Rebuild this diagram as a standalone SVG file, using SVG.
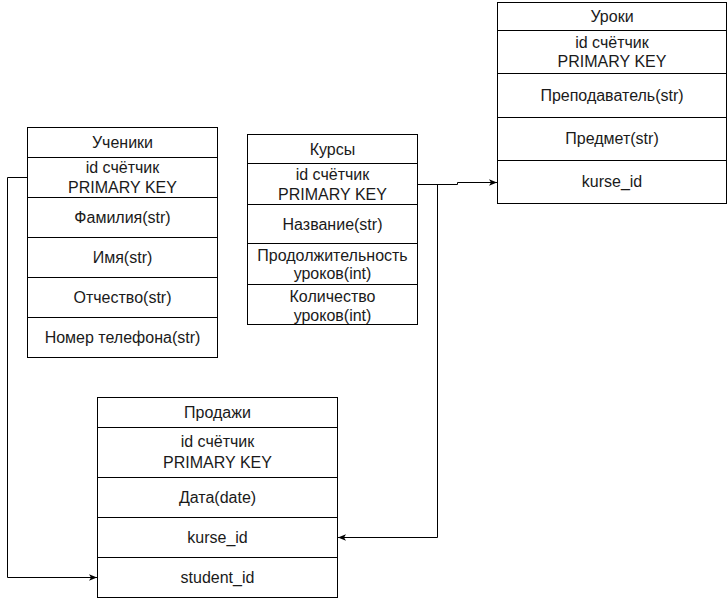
<svg xmlns="http://www.w3.org/2000/svg" width="728" height="598" viewBox="0 0 728 598">
<defs>
<style>
.box{fill:#fff;stroke:#000;stroke-width:1}
.sep{stroke:#000;stroke-width:1}
text{font-family:"Liberation Sans",Arial,sans-serif;font-size:16px;fill:#1a1a1a;text-anchor:middle}
.edge{fill:none;stroke:#000;stroke-width:1}
</style>
<marker id="arr" viewBox="0 0 10 10" refX="10" refY="5" markerWidth="8" markerHeight="8" markerUnits="userSpaceOnUse" orient="auto">
<path d="M0,1 L10,5 L0,9 L2.5,5 Z" fill="#000"/>
</marker>
</defs>
<rect width="728" height="598" fill="#fff"/>

<g id="students">
<rect class="box" x="27.5" y="127.5" width="190" height="230"/>
<path class="sep" d="M27.5 157.5H217.5M27.5 197.5H217.5M27.5 237.5H217.5M27.5 277.5H217.5M27.5 317.5H217.5"/>
<text x="122.5" y="148">Ученики</text>
<text x="122.5" y="173">id счётчик</text>
<text x="122.5" y="193">PRIMARY KEY</text>
<text x="122.5" y="223">Фамилия(str)</text>
<text x="122.5" y="263">Имя(str)</text>
<text x="122.5" y="303">Отчество(str)</text>
<text x="122.5" y="343">Номер телефона(str)</text>
</g>

<g id="courses">
<rect class="box" x="247.5" y="134.5" width="170" height="190"/>
<path class="sep" d="M247.5 163.5H417.5M247.5 204.5H417.5M247.5 243.5H417.5M247.5 284.5H417.5"/>
<text x="332.5" y="155">Курсы</text>
<text x="332.5" y="180">id счётчик</text>
<text x="332.5" y="200">PRIMARY KEY</text>
<text x="332.5" y="230">Название(str)</text>
<text x="332.5" y="261">Продолжительность</text>
<text x="332.5" y="279">уроков(int)</text>
<text x="332.5" y="302">Количество</text>
<text x="332.5" y="321">уроков(int)</text>
</g>

<g id="lessons">
<rect class="box" x="497.5" y="2.5" width="229" height="201"/>
<path class="sep" d="M497.5 30.5H726.5M497.5 73.5H726.5M497.5 117.5H726.5M497.5 160.5H726.5"/>
<text x="612" y="22">Уроки</text>
<text x="612" y="48">id счётчик</text>
<text x="612" y="67">PRIMARY KEY</text>
<text x="612" y="101">Преподаватель(str)</text>
<text x="612" y="144">Предмет(str)</text>
<text x="612" y="187">kurse_id</text>
</g>

<g id="sales">
<rect class="box" x="97.5" y="397.5" width="240" height="200"/>
<path class="sep" d="M97.5 427.5H337.5M97.5 477.5H337.5M97.5 517.5H337.5M97.5 557.5H337.5"/>
<text x="217.5" y="418">Продажи</text>
<text x="217.5" y="447">id счётчик</text>
<text x="217.5" y="468">PRIMARY KEY</text>
<text x="217.5" y="503">Дата(date)</text>
<text x="217.5" y="543">kurse_id</text>
<text x="217.5" y="583">student_id</text>
</g>

<g id="connectors">
<path class="edge" d="M27.5 177.5H7.5V577.5H97" marker-end="url(#arr)"/>
<path class="edge" d="M417.5 184.5H457.5V182.5H497" marker-end="url(#arr)"/>
<path class="edge" d="M417.5 184.5H437.5V537.5H338" marker-end="url(#arr)"/>
</g>
</svg>
